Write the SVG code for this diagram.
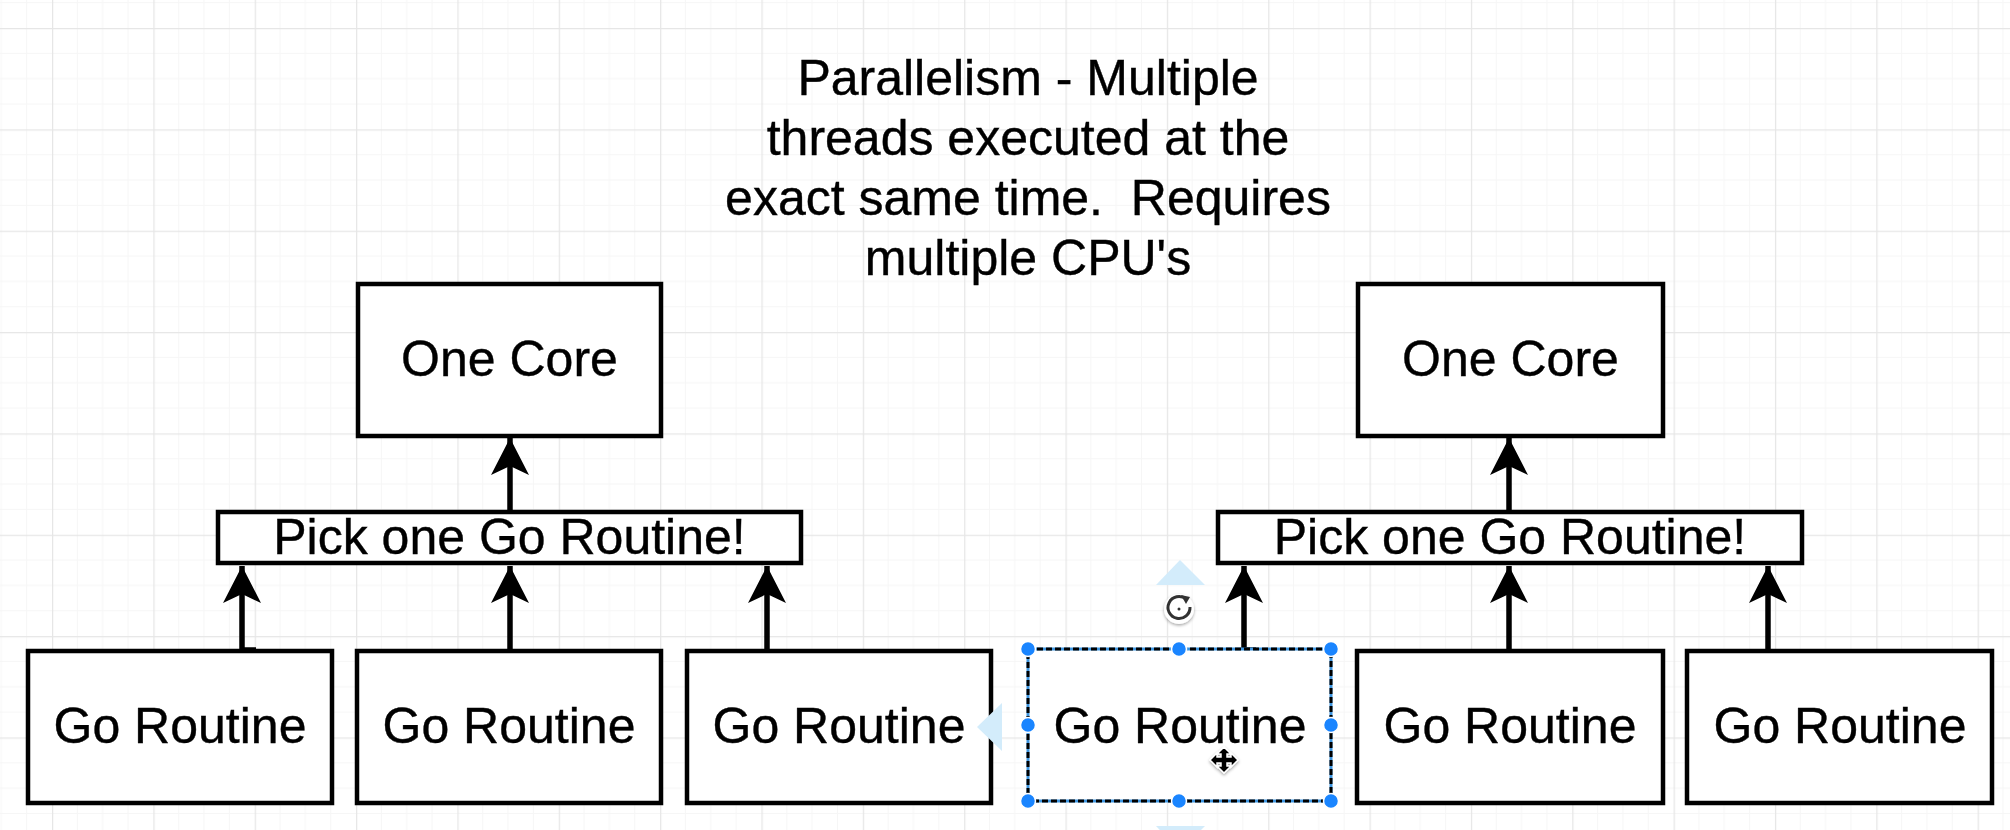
<svg xmlns="http://www.w3.org/2000/svg" width="2010" height="830" viewBox="0 0 2010 830">
  <style>
    .box { fill: #ffffff; stroke: #000000; stroke-width: 4.5; }
    .lbl { font-family: "Liberation Sans", Arial, Helvetica, sans-serif; font-size: 50px; fill: #000000; text-anchor: middle; stroke: #000000; stroke-width: 0.4; }
    .edge { fill: none; stroke: #000000; stroke-width: 5.5; }
    .handle { fill: #1a85ff; stroke: #ffffff; stroke-width: 1.5; }
    .hover { fill: #d3ecfb; }
  </style>
  <defs>
    <pattern id="grid" x="52" y="28" width="101.35" height="101.35" patternUnits="userSpaceOnUse">
      <path d="M25.34 0V101.35M50.67 0V101.35M76.01 0V101.35M0 25.34H101.35M0 50.67H101.35M0 76.01H101.35" fill="none" stroke="#f6f6f6" stroke-width="1"/>
      <path d="M0.5 0V101.35M0 0.5H101.35" fill="none" stroke="#e6e6e6" stroke-width="1.5"/>
    </pattern>
    <marker id="arrow" markerUnits="userSpaceOnUse" markerWidth="40" markerHeight="42" viewBox="-38 -21 40 42" refX="0" refY="0" orient="auto">
      <path d="M0 0L-37 -19L-28 0L-37 19Z" fill="#000000"/>
    </marker>
    <filter id="sh" x="-50%" y="-50%" width="200%" height="200%">
      <feDropShadow dx="0" dy="1.5" stdDeviation="1.5" flood-color="#000" flood-opacity="0.35"/>
    </filter>
  </defs>

  <rect x="0" y="0" width="2010" height="830" fill="#ffffff"/>
  <rect x="0" y="0" width="2010" height="830" fill="url(#grid)"/>

  <g id="title">
    <text class="lbl" x="1028" y="95">Parallelism - Multiple</text>
    <text class="lbl" x="1028" y="155">threads executed at the</text>
    <text class="lbl" x="1028" y="215" xml:space="preserve">exact same time.  Requires</text>
    <text class="lbl" x="1028" y="275">multiple CPU's</text>
  </g>

  <g id="connectors">
    <path class="edge" d="M510 512V438" marker-end="url(#arrow)"/>
    <path class="edge" d="M256 650H242V566" marker-end="url(#arrow)"/>
    <path class="edge" d="M510 651V566" marker-end="url(#arrow)"/>
    <path class="edge" d="M767 651V566" marker-end="url(#arrow)"/>
    <path class="edge" d="M1509 512V438" marker-end="url(#arrow)"/>
    <path class="edge" d="M1256 650H1244V566" marker-end="url(#arrow)"/>
    <path class="edge" d="M1509 651V566" marker-end="url(#arrow)"/>
    <path class="edge" d="M1768 651V566" marker-end="url(#arrow)"/>
  </g>

  <g id="core-left">
    <rect class="box" x="358" y="284" width="303" height="152"/>
    <text class="lbl" x="509.5" y="376">One Core</text>
  </g>
  <g id="pick-left">
    <rect class="box" x="218" y="512" width="583" height="51"/>
    <text class="lbl" x="509.5" y="554">Pick one Go Routine!</text>
  </g>
  <g id="core-right">
    <rect class="box" x="1358" y="284" width="305" height="152"/>
    <text class="lbl" x="1510.5" y="376">One Core</text>
  </g>
  <g id="pick-right">
    <rect class="box" x="1218" y="512" width="584" height="51"/>
    <text class="lbl" x="1510" y="554">Pick one Go Routine!</text>
  </g>

  <g id="go-1">
    <rect class="box" x="28" y="651" width="304" height="152"/>
    <text class="lbl" x="180" y="743">Go Routine</text>
  </g>
  <g id="go-2">
    <rect class="box" x="357" y="651" width="304" height="152"/>
    <text class="lbl" x="509" y="743">Go Routine</text>
  </g>
  <g id="go-3">
    <rect class="box" x="687" y="651" width="304" height="152"/>
    <text class="lbl" x="839" y="743">Go Routine</text>
  </g>
  <g id="go-4">
    <rect x="1028" y="649" width="303" height="152" fill="#ffffff" stroke="#3d95e0" stroke-width="3"/>
    <rect x="1028" y="649" width="303" height="152" fill="none" stroke="#000000" stroke-width="3" stroke-dasharray="6 3"/>
    <text class="lbl" x="1180" y="743">Go Routine</text>
  </g>
  <g id="go-5">
    <rect class="box" x="1357" y="651" width="306" height="152"/>
    <text class="lbl" x="1510" y="743">Go Routine</text>
  </g>
  <g id="go-6">
    <rect class="box" x="1687" y="651" width="305" height="152"/>
    <text class="lbl" x="1840" y="743">Go Routine</text>
  </g>

  <g id="selection">
    <path class="hover" d="M1180 560L1205 585H1156Z"/>
    <path class="hover" d="M977 727L1002 703V751Z"/>
    <path class="hover" d="M1156 826H1205L1180 851Z"/>
    <circle class="handle" cx="1028" cy="649" r="7.5"/>
    <circle class="handle" cx="1179" cy="649" r="7.5"/>
    <circle class="handle" cx="1331" cy="649" r="7.5"/>
    <circle class="handle" cx="1028" cy="725" r="7.5"/>
    <circle class="handle" cx="1331" cy="725" r="7.5"/>
    <circle class="handle" cx="1028" cy="801" r="7.5"/>
    <circle class="handle" cx="1179" cy="801" r="7.5"/>
    <circle class="handle" cx="1331" cy="801" r="7.5"/>
    <g filter="url(#sh)">
      <circle cx="1179" cy="609" r="15" fill="#ffffff"/>
      <path d="M1186 599A11 11 0 1 0 1190 607" fill="none" stroke="#333333" stroke-width="3"/>
      <path d="M1181 595L1190 597L1186 604Z" fill="#333333"/>
      <circle cx="1179" cy="609" r="1.5" fill="#333333"/>
    </g>
    <g filter="url(#sh)">
      <path d="M1224 747L1231 754H1227V757H1231V753L1238 760L1231 767V763H1227V766H1231L1224 773L1217 766H1221V763H1217V767L1210 760L1217 753V757H1221V754H1217Z" fill="#000000" stroke="#ffffff" stroke-width="1.5"/>
    </g>
  </g>
</svg>
